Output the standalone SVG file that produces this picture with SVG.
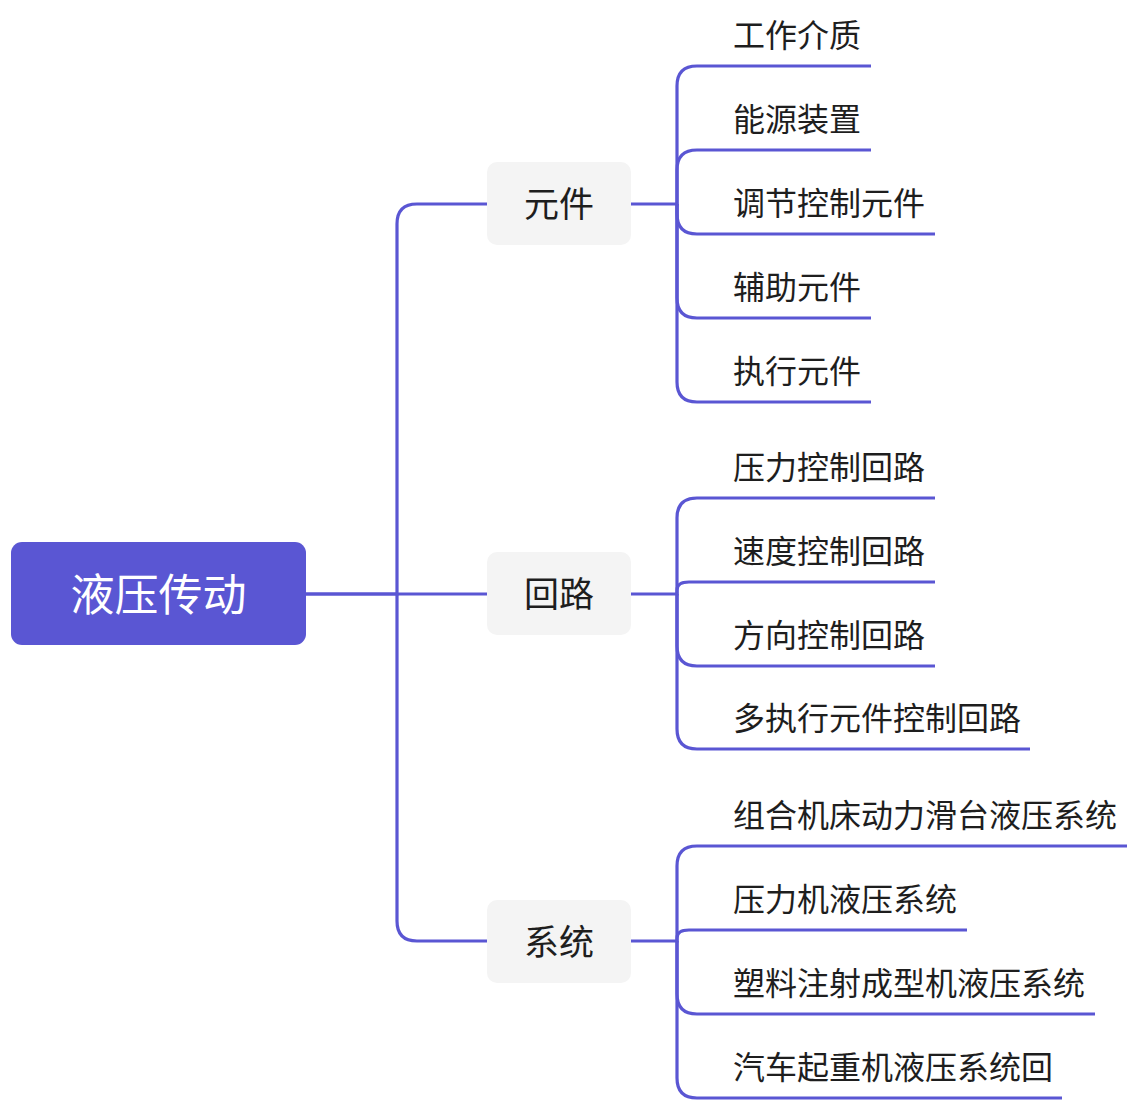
<svg xmlns="http://www.w3.org/2000/svg" width="1142" height="1117" viewBox="0 0 1142 1117">
<style>
.ln{fill:none;stroke:#5A56D3;stroke-width:3.2;stroke-linecap:butt}
.t{font-family:"Noto Sans CJK SC","Noto Sans",sans-serif;fill:#1E1E1E}
.leaf{font-size:32px}
.br{font-size:35px;text-anchor:middle}
.root{font-size:44px;text-anchor:middle;fill:#FFFFFF}
.brbox{fill:#F4F4F4}
</style>
<rect width="1142" height="1117" fill="#FFFFFF"/>
<g id="connectors">
<path class="ln" d="M306 594 H397 V224 Q397 204 417 204 H487"/>
<path class="ln" d="M306 594 H487"/>
<path class="ln" d="M397 594 V921 Q397 941 417 941 H487"/>
<path class="ln" d="M631 204 H677 V86 Q677 66 697 66 H871"/>
<path class="ln" d="M677 204 V170 Q677 150 697 150 H871"/>
<path class="ln" d="M677 204 V214 Q677 234 697 234 H935"/>
<path class="ln" d="M677 204 V298 Q677 318 697 318 H871"/>
<path class="ln" d="M677 204 V382 Q677 402 697 402 H871"/>
<path class="ln" d="M631 594 H677 V518 Q677 498 697 498 H935"/>
<path class="ln" d="M677 594 V590 Q677 582 689 582 H935"/>
<path class="ln" d="M677 594 V646 Q677 666 697 666 H935"/>
<path class="ln" d="M677 594 V729 Q677 749 697 749 H1030"/>
<path class="ln" d="M631 941 H677 V866 Q677 846 697 846 H1127"/>
<path class="ln" d="M677 941 V938 Q677 930 689 930 H967"/>
<path class="ln" d="M677 941 V994 Q677 1014 697 1014 H1095"/>
<path class="ln" d="M677 941 V1078 Q677 1098 697 1098 H1062"/>
</g>
<g id="root">
<rect x="11" y="542" width="295" height="103" rx="11" fill="#5A56D3"/>
<text class="t root" x="158.5" y="611">液压传动</text>
</g>
<g id="b1">
<rect class="brbox" x="487" y="162" width="144" height="83" rx="10"/>
<text class="t br" x="559" y="217">元件</text>
</g>
<g id="b2">
<rect class="brbox" x="487" y="552" width="144" height="83" rx="10"/>
<text class="t br" x="559" y="607">回路</text>
</g>
<g id="b3">
<rect class="brbox" x="487" y="900" width="144" height="83" rx="10"/>
<text class="t br" x="559" y="955">系统</text>
</g>
<g id="l1"><text class="t leaf" x="733" y="47">工作介质</text></g>
<g id="l2"><text class="t leaf" x="733" y="131">能源装置</text></g>
<g id="l3"><text class="t leaf" x="733" y="215">调节控制元件</text></g>
<g id="l4"><text class="t leaf" x="733" y="299">辅助元件</text></g>
<g id="l5"><text class="t leaf" x="733" y="383">执行元件</text></g>
<g id="l6"><text class="t leaf" x="733" y="479">压力控制回路</text></g>
<g id="l7"><text class="t leaf" x="733" y="563">速度控制回路</text></g>
<g id="l8"><text class="t leaf" x="733" y="647">方向控制回路</text></g>
<g id="l9"><text class="t leaf" x="733" y="730">多执行元件控制回路</text></g>
<g id="l10"><text class="t leaf" x="733" y="827">组合机床动力滑台液压系统</text></g>
<g id="l11"><text class="t leaf" x="733" y="911">压力机液压系统</text></g>
<g id="l12"><text class="t leaf" x="733" y="995">塑料注射成型机液压系统</text></g>
<g id="l13"><text class="t leaf" x="733" y="1079">汽车起重机液压系统回</text></g>
</svg>
